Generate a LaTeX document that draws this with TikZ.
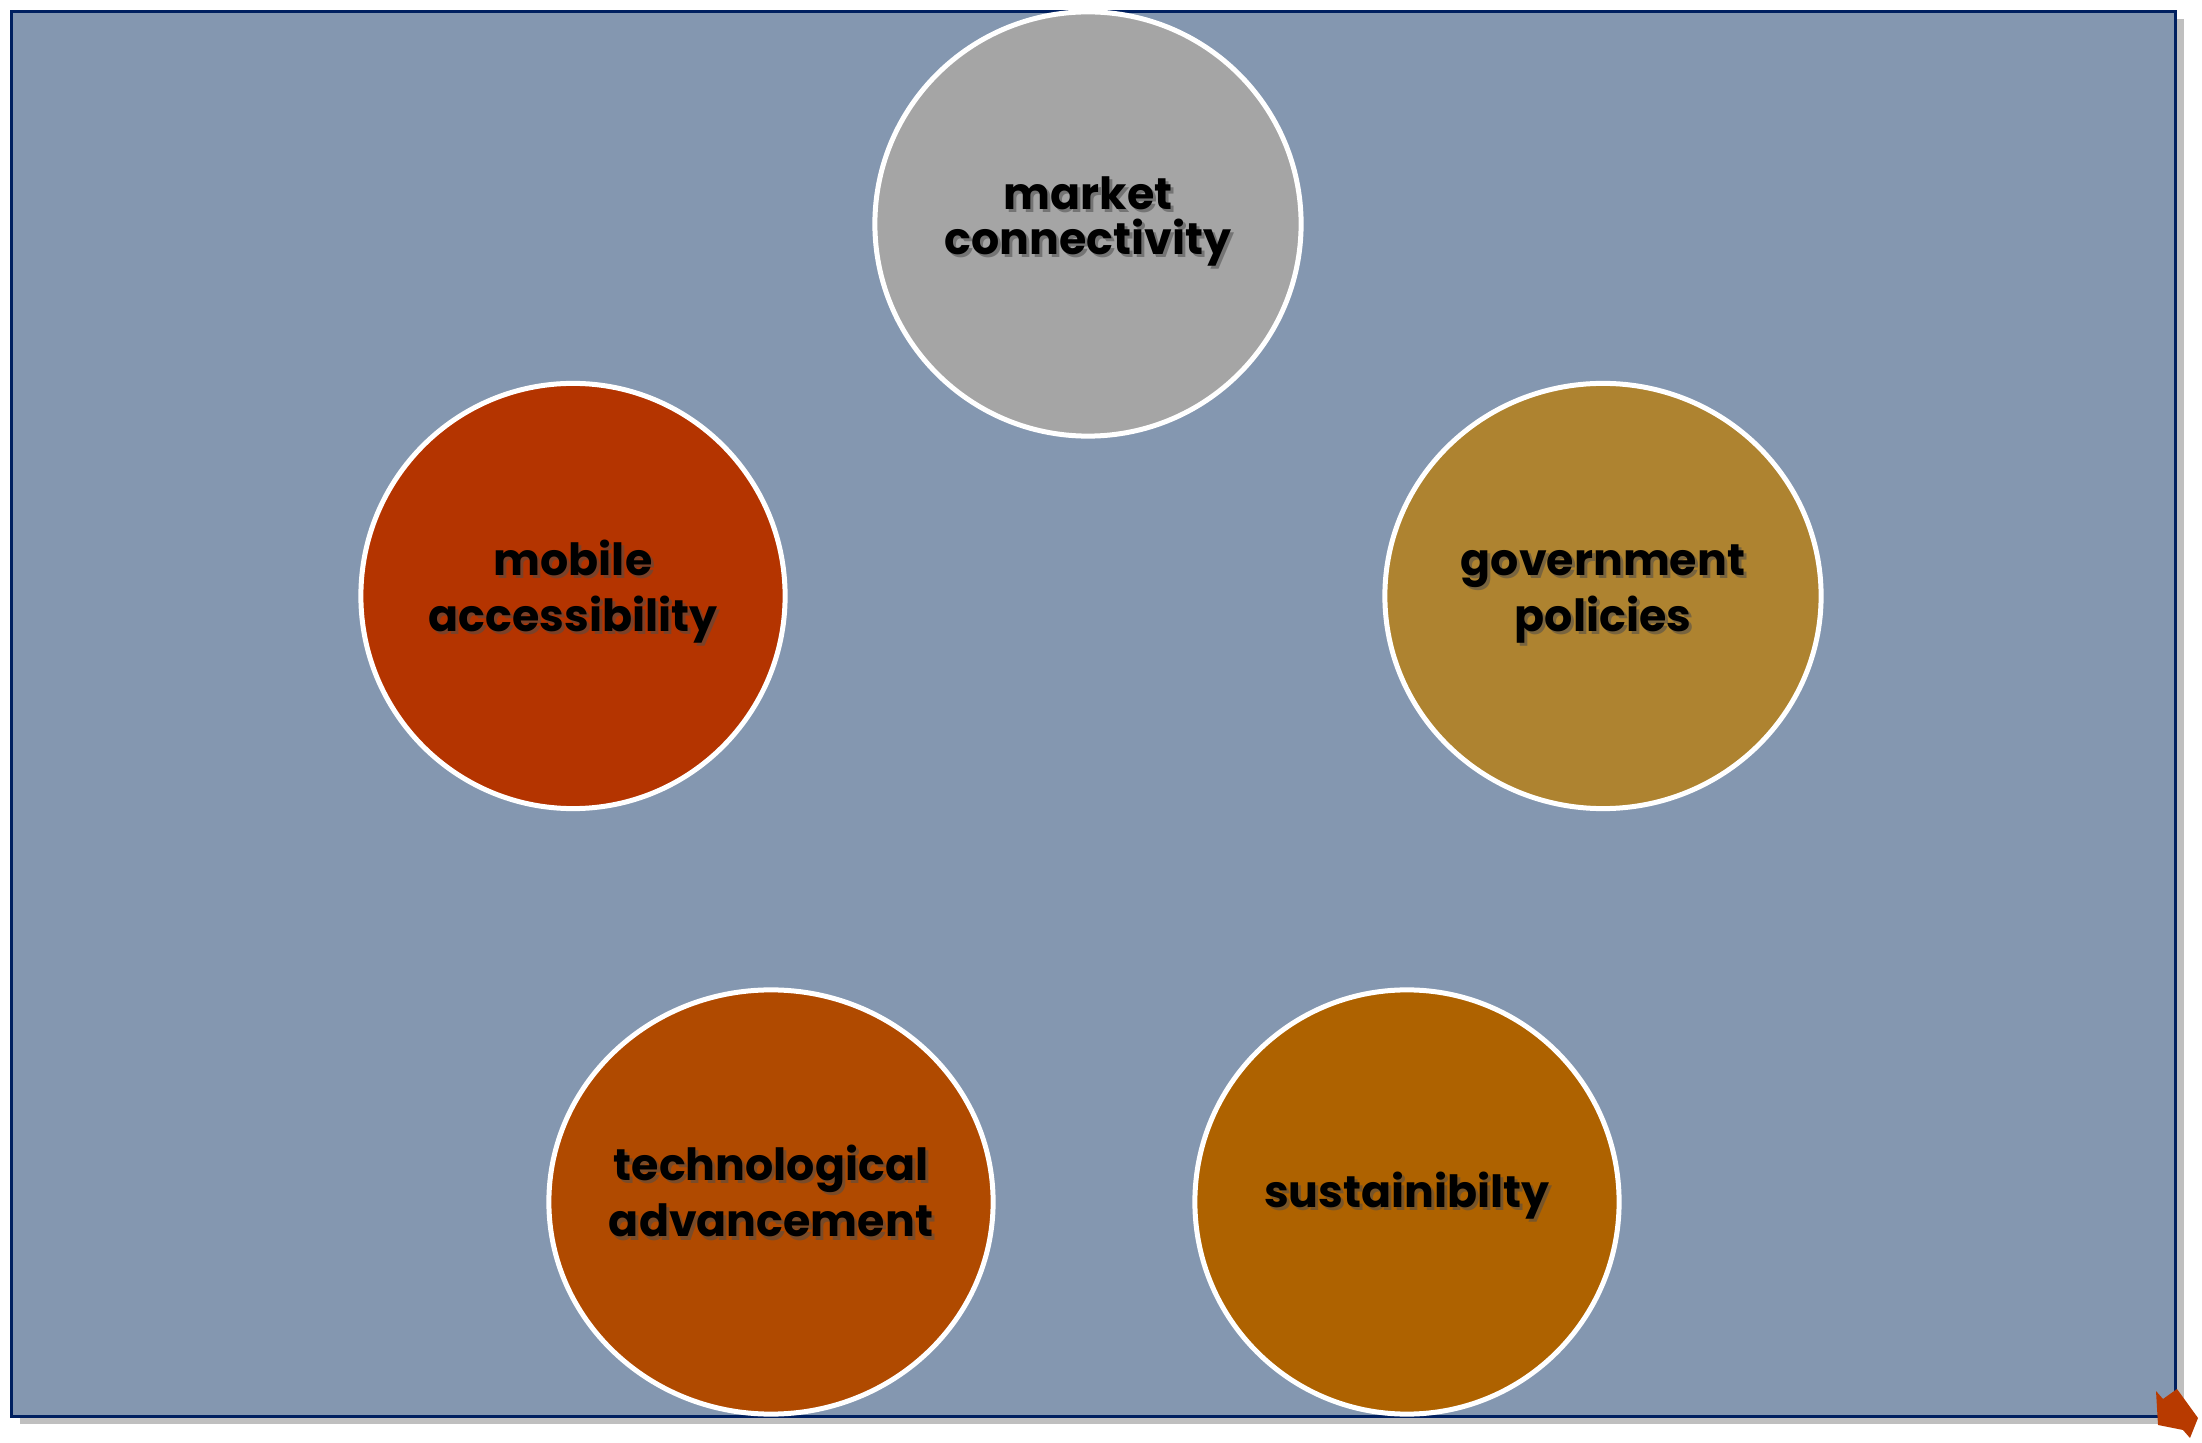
\documentclass[tikz,border=0pt]{standalone}
\usepackage{fontspec}
\setmainfont{Poppins}[UprightFont=* Bold]
\usetikzlibrary{shapes.geometric,shadows}

\definecolor{slate}{RGB}{132,151,176}
\definecolor{navy}{RGB}{0,32,96}
\definecolor{marketgray}{RGB}{165,165,165}
\definecolor{mobilered}{RGB}{180,52,0}
\definecolor{govgold}{RGB}{174,131,48}
\definecolor{techrust}{RGB}{176,74,0}
\definecolor{sustorange}{RGB}{174,98,0}
\definecolor{cornerred}{RGB}{184,58,0}

\tikzset{
	bubble/.style={ellipse, draw=white, line width=0.05cm, inner sep=0pt},
	lbl/.style={anchor=base, align=center, text=black,
		font=\fontsize{12.6}{16}\selectfont},
	lblshadow/.style={lbl, text=black!70, opacity=.55}
}

\newcommand{\shadowlabel}[3]{%
	\node[lblshadow] (#1s) at ([shift={(3,3)}]#2) {#3};
	\node[lbl] (#1) at (#2) {#3};}

\begin{document}
\begin{tikzpicture}[x=0.01cm, y=-0.01cm]
		\useasboundingbox (0,0) rectangle (2202,1443);
		% frame
		\node[draw=navy, line width=0.03cm, fill=slate, anchor=north west,
			minimum width=21.63cm, minimum height=14.04cm, inner sep=0pt,
			drop shadow={shadow xshift=0.08cm, shadow yshift=-0.08cm, opacity=.5}]
			(frame) at (10,10) {};
		
		% bubbles
		\node[bubble, fill=marketgray, minimum width=4.26cm, minimum height=4.24cm] (market) at (1088,224) {};
		\node[bubble, fill=mobilered, minimum width=4.24cm, minimum height=4.25cm] (mobile) at (573,596) {};
		\node[bubble, fill=govgold, minimum width=4.36cm, minimum height=4.25cm] (gov) at (1603,596) {};
		\node[bubble, fill=techrust, minimum width=4.44cm, minimum height=4.24cm] (tech) at (771,1202) {};
		\node[bubble, fill=sustorange, minimum width=4.24cm, minimum height=4.24cm] (sust) at (1407,1202) {};
		
		% labels (base = last line)
		\shadowlabel{marketlbl}{1088,255}{market\\[-3.2pt]connectivity}
		\shadowlabel{mobilelbl}{573,632}{mobile\\accessibility}
		\shadowlabel{govlbl}{1603,632}{government\\policies}
		\shadowlabel{techlbl}{771,1237}{technological\\advancement}
		\shadowlabel{sustlbl}{1407,1207}{sustainibilty}
		
		% corner arrow
		\fill[cornerred] (2156,1391) -- (2163,1399) -- (2177,1389) -- (2198,1418)
			-- (2190,1438) -- (2183,1430) -- (2158,1425) -- cycle;
	\end{tikzpicture}
\end{document}
